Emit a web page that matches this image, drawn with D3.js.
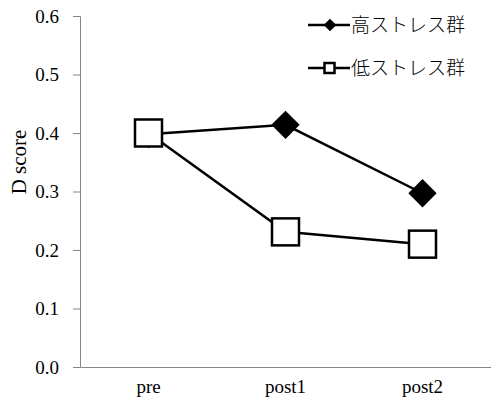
<!DOCTYPE html>
<html><head><meta charset="utf-8">
<script src="https://cdn.jsdelivr.net/npm/d3@7"></script>
<style>body{margin:0;background:#fff}</style>
</head><body>
<svg id="c" width="491" height="402"></svg>
<script>
const categories = ["pre", "post1", "post2"];
const highStress = [0.398, 0.414, 0.297];
const lowStress = [0.400, 0.231, 0.210];
const yTicks = [0, 0.1, 0.2, 0.3, 0.4, 0.5, 0.6];
const seriesNames = ["高ストレス群", "低ストレス群"];

const svg = d3.select("#c");
const x = d3.scaleBand().domain(categories).range([80, 491]);
const y = d3.scaleLinear().domain([0, 0.6]).range([367, 16]);
const axisColor = "#868686";
const serif = '"Liberation Serif"';

// y axis
const ya = svg.append("g").attr("transform", "translate(80,0)")
  .call(d3.axisLeft(y).tickValues(yTicks).tickFormat(d3.format(".1f")).tickSize(7).tickPadding(14));
ya.select(".domain").attr("stroke", axisColor).attr("stroke-width", 1);
ya.selectAll(".tick line").attr("stroke", axisColor);
ya.selectAll("text").style("font-family", serif).style("font-size", "19px").attr("fill", "#000");

// x axis
const xa = svg.append("g").attr("transform", "translate(0,367)")
  .call(d3.axisBottom(x).tickSize(0));
xa.select(".domain").attr("stroke", axisColor).attr("stroke-width", 1);
xa.selectAll("text").attr("y", 26).attr("dy", 0)
  .style("font-family", serif).style("font-size", "19px").attr("fill", "#000");

svg.append("text").attr("transform", "translate(26,162) rotate(-90)")
  .attr("text-anchor", "middle").style("font-family", serif).style("font-size", "21px")
  .text("D score");

const cx = d => x(d) + x.bandwidth() / 2;
const line = d3.line().x((d, i) => cx(categories[i])).y(d => y(d));

svg.append("path").datum(highStress).attr("d", line).attr("fill", "none").attr("stroke", "#000").attr("stroke-width", 2.5);
svg.append("path").datum(lowStress).attr("d", line).attr("fill", "none").attr("stroke", "#000").attr("stroke-width", 2.5);

const diamond = d3.symbol().type(d3.symbolSquare).size(400);
svg.selectAll(".hi").data(highStress).join("path")
  .attr("d", diamond)
  .attr("transform", (d, i) => `translate(${cx(categories[i])},${y(d)}) rotate(45)`)
  .attr("fill", "#000");

svg.selectAll(".lo").data(lowStress).join("rect")
  .attr("x", (d, i) => cx(categories[i]) - 13.5).attr("y", d => y(d) - 13.5)
  .attr("width", 27).attr("height", 27)
  .attr("fill", "#fff").attr("stroke", "#000").attr("stroke-width", 2.5);

// legend
const lg = svg.append("g");
const ly = [25, 68];
seriesNames.forEach((n, i) => {
  lg.append("line").attr("x1", 308).attr("x2", 350).attr("y1", ly[i]).attr("y2", ly[i])
    .attr("stroke", "#000").attr("stroke-width", 2.5);
  if (i === 0) {
    lg.append("path").attr("d", d3.symbol().type(d3.symbolSquare).size(80)())
      .attr("transform", `translate(330,${ly[i]}) rotate(45)`).attr("fill", "#000");
  } else {
    lg.append("rect").attr("x", 324.5).attr("y", ly[i] - 5).attr("width", 10).attr("height", 10)
      .attr("fill", "#fff").attr("stroke", "#000").attr("stroke-width", 2.5);
  }
  lg.append("text").attr("x", 351).attr("y", ly[i]).attr("dy", "0.36em")
    .style("font-family", '"Noto Sans CJK JP", sans-serif').style("font-weight", 300).style("font-size", "19px")
    .text(n);
});
</script>
</body></html>
